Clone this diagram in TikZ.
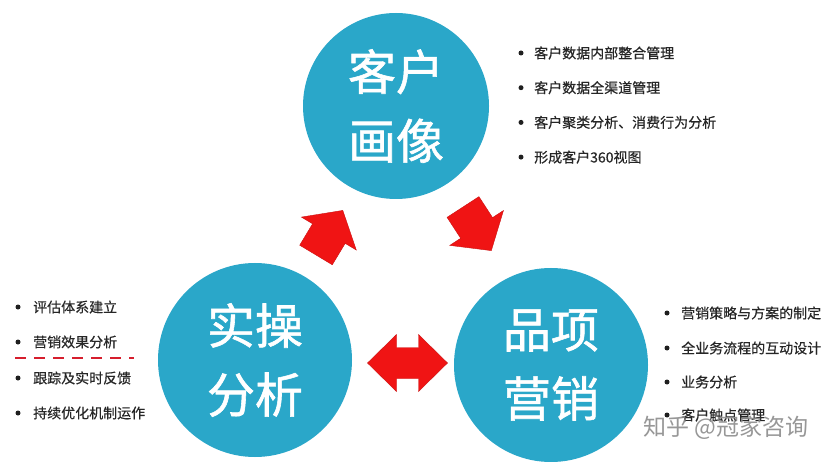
\documentclass[tikz,border=0pt]{standalone}
\usepackage{fontspec}
\setmainfont{Noto Sans CJK SC}
\newfontfamily\circfont[FakeBold=1.2]{Noto Sans CJK SC}
\newfontfamily\listfont[FakeBold=0.4]{Noto Sans CJK SC}
\definecolor{circblue}{RGB}{42,167,201}
\definecolor{arrred}{RGB}{240,20,20}
\definecolor{dashred}{RGB}{214,30,45}
\begin{document}
\begin{tikzpicture}[x=1pt,y=-1pt,
  bigcirc/.style={circle, fill=circblue, inner sep=0pt, minimum size=#1,
    text=white, align=center, font=\circfont\fontsize{48}{69}\selectfont},
  itemtext/.style={anchor=west, inner sep=0pt, text=black!85,
    font=\listfont\fontsize{14}{16}\selectfont},
  bulletdot/.style={circle, fill=black!88, inner sep=0pt, minimum size=5pt},
  arrowfill/.style={fill=arrred, draw=arrred!85!black, line width=0.4pt, line join=miter},
  blockarrow/.pic={
    \path[arrowfill] (0,-19) -- (25,-19) -- (25,-32) -- (52,0) -- (25,32)
      -- (25,19) -- (0,19) -- cycle;
  },
  duoarrow/.pic={
    \path[arrowfill] (-40,0) -- (-11,-28.5) -- (-11,-15.5) -- (11,-15.5)
      -- (11,-28.5) -- (40,0) -- (11,28.5) -- (11,15.5) -- (-11,15.5)
      -- (-11,28.5) -- cycle;
  }
]
\useasboundingbox[fill=white] (0,0) rectangle (835,462);

% circles
\node[bigcirc=186pt] (portrait) at (396,106) {客户\\画像};
\node[bigcirc=194pt] (practice) at (255,360) {实操\\分析};
\node[bigcirc=194pt] (marketing) at (551,365) {品项\\营销};

% arrows
\pic[rotate=59] (arrowA) at (316,255) {blockarrow};
\pic[rotate=-57] (arrowB) at (463,207) {blockarrow};
\pic (arrowC) at (407.5,363) {duoarrow};

% top list
\foreach \t [count=\i] in {客户数据内部整合管理,客户数据全渠道管理,客户聚类分析、消费行为分析,形成客户360视图}{
  \pgfmathsetmacro{\yy}{53+34.7*(\i-1)}
  \node[bulletdot] (tb\i) at (521,\yy) {};
  \node[itemtext] (tt\i) at (534,\yy) {\t};
}

% left list
\foreach \t/\yy [count=\i] in {评估体系建立/307,营销效果分析/342,跟踪及实时反馈/378,持续优化机制运作/413}{
  \node[bulletdot] (lb\i) at (18,\yy) {};
  \node[itemtext] (lt\i) at (33,\yy) {\t};
}
\coordinate (dashL) at (15,358);
\coordinate (dashR) at (134,358);
\draw[dashred, line width=2.6pt, dash pattern=on 11pt off 8pt] (dashL) -- (dashR);

% right list
\foreach \t/\yy [count=\i] in {营销策略与方案的制定/313,全业务流程的互动设计/348,业务分析/382,客户触点管理/415}{
  \node[bulletdot] (rb\i) at (667,\yy) {};
  \node[itemtext] (rt\i) at (681,\yy) {\t};
}

% watermark
\node[anchor=west, inner sep=0pt, text=black!45, opacity=0.9,
  font=\fontsize{23}{26}\selectfont] (mark) at (643,428) {知乎 @冠家咨询};
\end{tikzpicture}
\end{document}
